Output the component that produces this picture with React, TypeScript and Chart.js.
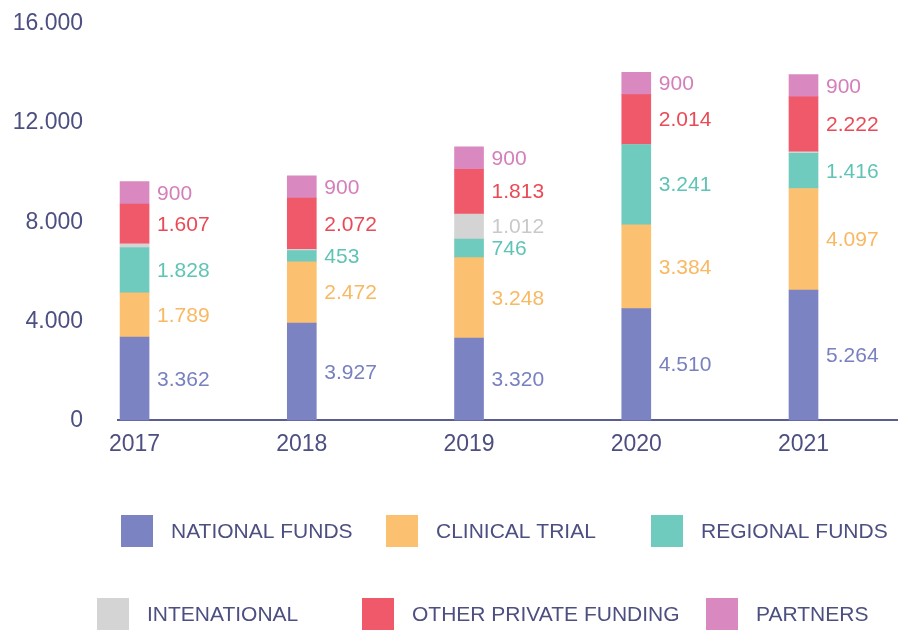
import React, { useEffect, useRef } from "react";
import { Chart, registerables } from "chart.js";

Chart.register(...registerables);

const years = [2017, 2018, 2019, 2020, 2021];
const nationalFunds = [3362, 3927, 3320, 4510, 5264];
const clinicalTrial = [1789, 2472, 3248, 3384, 4097];
const regionalFunds = [1828, 453, 746, 3241, 1416];
const international = [150, 50, 1012, 0, 60];
const otherPrivateFunding = [1607, 2072, 1813, 2014, 2222];
const partners = [900, 900, 900, 900, 900];
const yTickValues = [0, 4000, 8000, 12000, 16000];

const seriesNames = [
  "NATIONAL FUNDS",
  "CLINICAL TRIAL",
  "REGIONAL FUNDS",
  "INTENATIONAL",
  "OTHER PRIVATE FUNDING",
  "PARTNERS",
];
const seriesValues = [nationalFunds, clinicalTrial, regionalFunds, international, otherPrivateFunding, partners];
const seriesColors = ["#7b83c3", "#fcc071", "#70cbbf", "#d4d4d4", "#f0596a", "#da88c0"];
const labelColors = ["#7880c0", "#f9b862", "#5fc4b5", "#c9c9c9", "#ea4a55", "#d47fb9"];

const TEXT = "#4c4f80";
const FONT = "'Liberation Sans', Arial, Helvetica, sans-serif";

// legend layout: box positions [x, y]
const legendBoxes = [
  [121, 515],
  [386, 515],
  [651, 515],
  [97, 598],
  [362, 598],
  [706, 598],
];

const fmt = (v: number) => {
  const s = String(Math.round(v));
  return s.replace(/\B(?=(\d{3})+(?!\d))/g, ".");
};

const valueLabels = {
  id: "valueLabels",
  afterDatasetsDraw(chart: any) {
    const ctx = chart.ctx;
    ctx.save();
    ctx.font = `21px ${FONT}`;
    ctx.textBaseline = "middle";
    ctx.textAlign = "left";
    chart.data.datasets.forEach((ds: any, di: number) => {
      const meta = chart.getDatasetMeta(di);
      meta.data.forEach((bar: any, i: number) => {
        const v = ds.data[i].y;
        if (v < 300) return;
        const p = bar.getProps(["x", "y", "base", "width"], true);
        ctx.fillStyle = labelColors[di];
        ctx.fillText(fmt(v), p.x + p.width / 2 + 8, (p.y + p.base) / 2 + 1);
      });
    });
    ctx.restore();
  },
};

const customLegend = {
  id: "customLegend",
  afterDraw(chart: any) {
    const ctx = chart.ctx;
    ctx.save();
    ctx.font = `21px ${FONT}`;
    ctx.textBaseline = "middle";
    ctx.textAlign = "left";
    chart.data.datasets.forEach((ds: any, di: number) => {
      const [bx, by] = legendBoxes[di];
      ctx.fillStyle = ds.backgroundColor;
      ctx.fillRect(bx, by, 32, 32);
      ctx.fillStyle = TEXT;
      ctx.fillText(ds.label, bx + 32 + 18, by + 17);
    });
    ctx.restore();
  },
};

export default function App() {
  const ref = useRef<HTMLCanvasElement | null>(null);
  useEffect(() => {
    if (!ref.current) return;
    const chart = new Chart(ref.current, {
      type: "bar",
      data: {
        datasets: seriesNames.map((name, si) => ({
          label: name,
          data: years.map((yr, i) => ({ x: yr, y: seriesValues[si][i] })),
          backgroundColor: seriesColors[si],
          borderWidth: 0,
          barThickness: 29,
        })),
      },
      options: {
        responsive: false,
        animation: false,
        layout: { padding: { top: 24, left: 13, right: 0, bottom: 162 } },
        plugins: {
          legend: { display: false },
          tooltip: { enabled: false },
          title: { display: false },
        },
        scales: {
          x: {
            type: "linear",
            stacked: true,
            offset: false,
            min: 2016.901,
            max: 2021.565,
            afterBuildTicks: (scale: any) => {
              scale.ticks = years.map((v) => ({ value: v }));
            },
            afterFit: (scale: any) => {
              scale.paddingLeft = 0;
              scale.paddingRight = 0;
            },
            grid: { display: false, drawTicks: false, offset: false },
            border: { display: true, color: "#5a5d90", width: 2 },
            ticks: {
              padding: 10,
              color: TEXT,
              font: { family: FONT, size: 23 },
              callback: (v: any) => String(v),
              maxRotation: 0,
              autoSkip: false,
            },
          },
          y: {
            stacked: true,
            min: 0,
            max: 16000,
            afterBuildTicks: (scale: any) => {
              scale.ticks = yTickValues.map((v) => ({ value: v }));
            },
            afterFit: (scale: any) => {
              scale.width = 105;
              scale.paddingTop = 0;
              scale.paddingBottom = 0;
            },
            grid: { display: false, drawTicks: false },
            border: { display: false },
            ticks: {
              padding: 35,
              color: TEXT,
              font: { family: FONT, size: 23 },
              callback: (v: any) => fmt(Number(v)),
            },
          },
        },
      },
      plugins: [valueLabels, customLegend],
    } as any);
    return () => chart.destroy();
  }, []);
  return (
    <div style={{ position: "fixed", left: 0, top: 0, width: 898, height: 630, background: "#fff" }}>
      <canvas ref={ref} width={898} height={630} style={{ width: 898, height: 630, display: "block" }} />
    </div>
  );
}
